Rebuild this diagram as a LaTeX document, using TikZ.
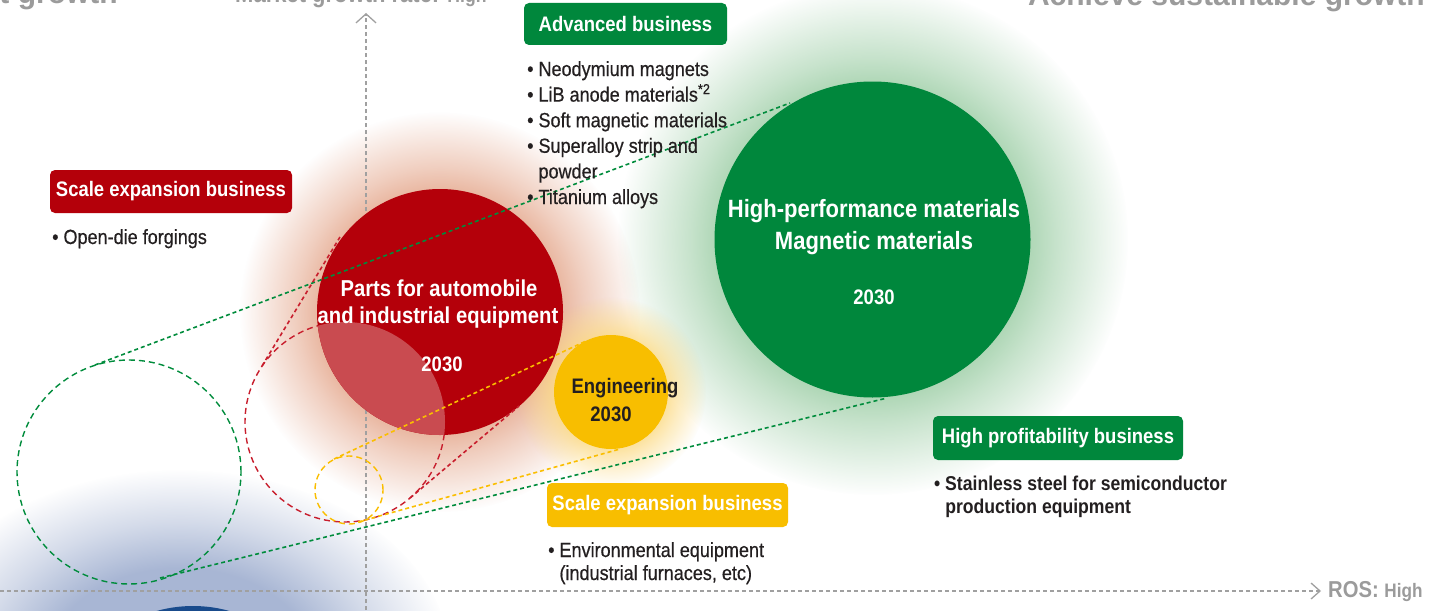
\documentclass[tikz,border=0pt]{standalone}
\usepackage{fontspec}
\setmainfont{Liberation Sans}[FakeStretch=0.88]
\newfontfamily\headfont{Liberation Sans}
\newfontfamily\itemfont{Liberation Sans}[FakeStretch=0.88, FakeBold=0.5]
\usetikzlibrary{arrows.meta,fadings}
\definecolor{ered}{RGB}{180,0,10}
\definecolor{egreen}{RGB}{0,135,60}
\definecolor{eyellow}{RGB}{248,190,0}
\definecolor{lensred}{RGB}{201,75,80}
\definecolor{dred}{RGB}{200,30,45}
\definecolor{dyellow}{RGB}{250,190,0}
\definecolor{dgreen}{RGB}{0,140,60}
\definecolor{axisgray}{RGB}{160,160,160}
\definecolor{headgray}{RGB}{155,155,155}
\definecolor{txt}{RGB}{35,31,32}
\definecolor{glowred}{RGB}{226,158,128}
\definecolor{glowgreen}{RGB}{145,200,155}
\definecolor{glowyellow}{RGB}{252,218,130}
\definecolor{glowblue}{RGB}{168,182,212}
\definecolor{darkblue}{RGB}{25,75,140}
\pgfdeclareradialshading{glowsh}{\pgfpointorigin}{color(0bp)=(white); color(12bp)=(white); color(18bp)=(gray); color(25bp)=(black); color(50bp)=(black)}
\pgfdeclarefading{glowfade}{\pgfuseshading{glowsh}}
\tikzset{
  item/.style={anchor=base west, inner sep=0pt, text=txt, font=\itemfont\fontsize{20.5}{20.5}\selectfont},
  itemb/.style={item, font=\bfseries\fontsize{20}{20}\selectfont},
  tag/.style={rounded corners=5pt, text=white, inner sep=0pt, font=\bfseries\fontsize{21}{21}\selectfont},
  circtext/.style={text=white, inner sep=0pt, font=\bfseries\fontsize{23}{23}\selectfont},
  gcirctext/.style={circtext, font=\bfseries\fontsize{25}{25}\selectfont},
  yeartext/.style={text=white, inner sep=0pt, font=\bfseries\fontsize{21}{21}\selectfont},
  dcirc/.style={circle, draw, line width=1.4pt, dash pattern=on 6pt off 4pt, inner sep=0pt},
  dline/.style={line width=1.6pt, dash pattern=on 4pt off 3pt},
  axis/.style={draw=axisgray, line width=1.3pt, dash pattern=on 4pt off 3pt},
  head/.style={inner sep=0pt, text=headgray},
}
\begin{document}
\begin{tikzpicture}[x=1pt,y=-1pt]
\fill[white] (0,0) rectangle (1450,610);
\useasboundingbox (0,0) rectangle (1450,610);
% glows
\fill[glowblue, path fading=glowfade] (180,660) ellipse [x radius=270pt, y radius=190pt];
\fill[glowgreen, path fading=glowfade] (873,240) circle (255pt);
\fill[glowred, path fading=glowfade] (440,312) circle (200pt);
\fill[glowyellow, path fading=glowfade] (611,392) circle (95pt);
\fill[darkblue] (193,740) circle (134pt);
% axes
\coordinate (ybot) at (366,610);
\coordinate (ytop) at (366,13);
\coordinate (xleft) at (0,591);
\coordinate (xright) at (1321,591);
\draw[axis, -{Straight Barb[length=9pt,width=20pt,line width=1.3pt]}] (ybot) -- (ytop);
\draw[axis, -{Straight Barb[length=9pt,width=16pt,line width=1.3pt]}] (xleft) -- (xright);
% headings (cut off at top)
\node[head, anchor=base east, font=\headfont\bfseries\fontsize{30}{30}\selectfont] (hleft) at (118,4) {t growth};
\node[head, anchor=base east, font=\headfont\bfseries\fontsize{30}{30}\selectfont] (hright) at (1425,6) {Achieve sustainable growth};
\node[head, anchor=base west, font=\bfseries\fontsize{25}{25}\selectfont] (ylabel) at (235,3) {Market growth rate: {\fontsize{20}{20}\selectfont High}};
\node[head, anchor=base west, font=\bfseries\fontsize{23}{23}\selectfont] (xlabel) at (1328,597) {ROS: {\fontsize{19.5}{19.5}\selectfont High}};
% dashed circles
\node[dcirc, draw=dgreen, minimum size=224pt] (gdash) at (129,472) {};
\node[dcirc, draw=dred, minimum size=200pt] (rdash) at (345,422) {};
\node[dcirc, draw=dyellow, minimum size=68pt] (ydash) at (349,490) {};
% main circles
\node[circle, fill=egreen, minimum size=316pt, inner sep=0pt] (gcirc) at (872.5,239.5) {};
\node[circle, fill=ered, minimum size=246pt, inner sep=0pt] (rcirc) at (440,312) {};
\node[circle, fill=eyellow, minimum size=114pt, inner sep=0pt] (ycirc) at (611,392) {};
\begin{scope}
\clip (440,312) circle (123pt);
\fill[lensred] (345,422) circle (100pt);
\end{scope}
% connector lines
\coordinate (ga) at (95,365);
\coordinate (gb) at (790,103);
\coordinate (gc) at (160,578);
\coordinate (gd) at (887,398);
\coordinate (ra) at (262,366);
\coordinate (rb) at (340,237);
\coordinate (rc) at (410,498);
\coordinate (rd) at (519,406);
\coordinate (ya) at (334,459);
\coordinate (yb) at (586,341);
\coordinate (yc) at (358,522);
\coordinate (yd) at (620,449);
\draw[dline, dgreen] (ga) -- (gb);
\draw[dline, dgreen] (gc) -- (gd);
\draw[dline, dred] (ra) -- (rb);
\draw[dline, dred] (rc) -- (rd);
\draw[dline, dyellow] (ya) -- (yb);
\draw[dline, dyellow] (yc) -- (yd);
% circle texts
\node[circtext] (r1) at (439,288) {Parts for automobile};
\node[circtext] (r2) at (438,318) {and industrial equipment};
\node[yeartext] (r3) at (442,364) {2030};
\node[gcirctext] (g1) at (874,211) {High-performance materials};
\node[gcirctext] (g2) at (874,243) {Magnetic materials};
\node[yeartext] (g3) at (874,297) {2030};
\node[circtext, text=txt, font=\bfseries\fontsize{21}{21}\selectfont] (y1) at (625,388) {Engineering};
\node[yeartext, text=txt] (y2) at (611,414) {2030};
% tags
\node[tag, fill=egreen, minimum width=203pt, minimum height=42pt] (tadv) at (625.5,24) {Advanced business};
\node[tag, fill=ered, minimum width=242pt, minimum height=43pt] (tscr) at (171,191.5) {Scale expansion business};
\node[tag, fill=eyellow, minimum width=241pt, minimum height=44pt] (tscy) at (667.5,505) {Scale expansion business};
\node[tag, fill=egreen, minimum width=250pt, minimum height=44pt] (thp) at (1058,438) {High profitability business};
% lists
\node[item] (a1) at (527,76) {• Neodymium magnets};
\node[item] (a2) at (527,101.6) {• LiB anode materials\textsuperscript{*2}};
\node[item] (a3) at (527,127.2) {• Soft magnetic materials};
\node[item] (a4) at (527,152.8) {• Superalloy strip and};
\node[item] (a5) at (527,178.4) {\hphantom{• }powder};
\node[item] (a6) at (527,204) {• Titanium alloys};
\node[item] (o1) at (52,244) {• Open-die forgings};
\node[item] (e1) at (548,557) {• Environmental equipment};
\node[item] (e2) at (548,580) {\hphantom{• }(industrial furnaces, etc)};
\node[itemb] (s1) at (934,490) {• Stainless steel for semiconductor};
\node[itemb] (s2) at (934,513) {\hphantom{• }production equipment};
\end{tikzpicture}
\end{document}
